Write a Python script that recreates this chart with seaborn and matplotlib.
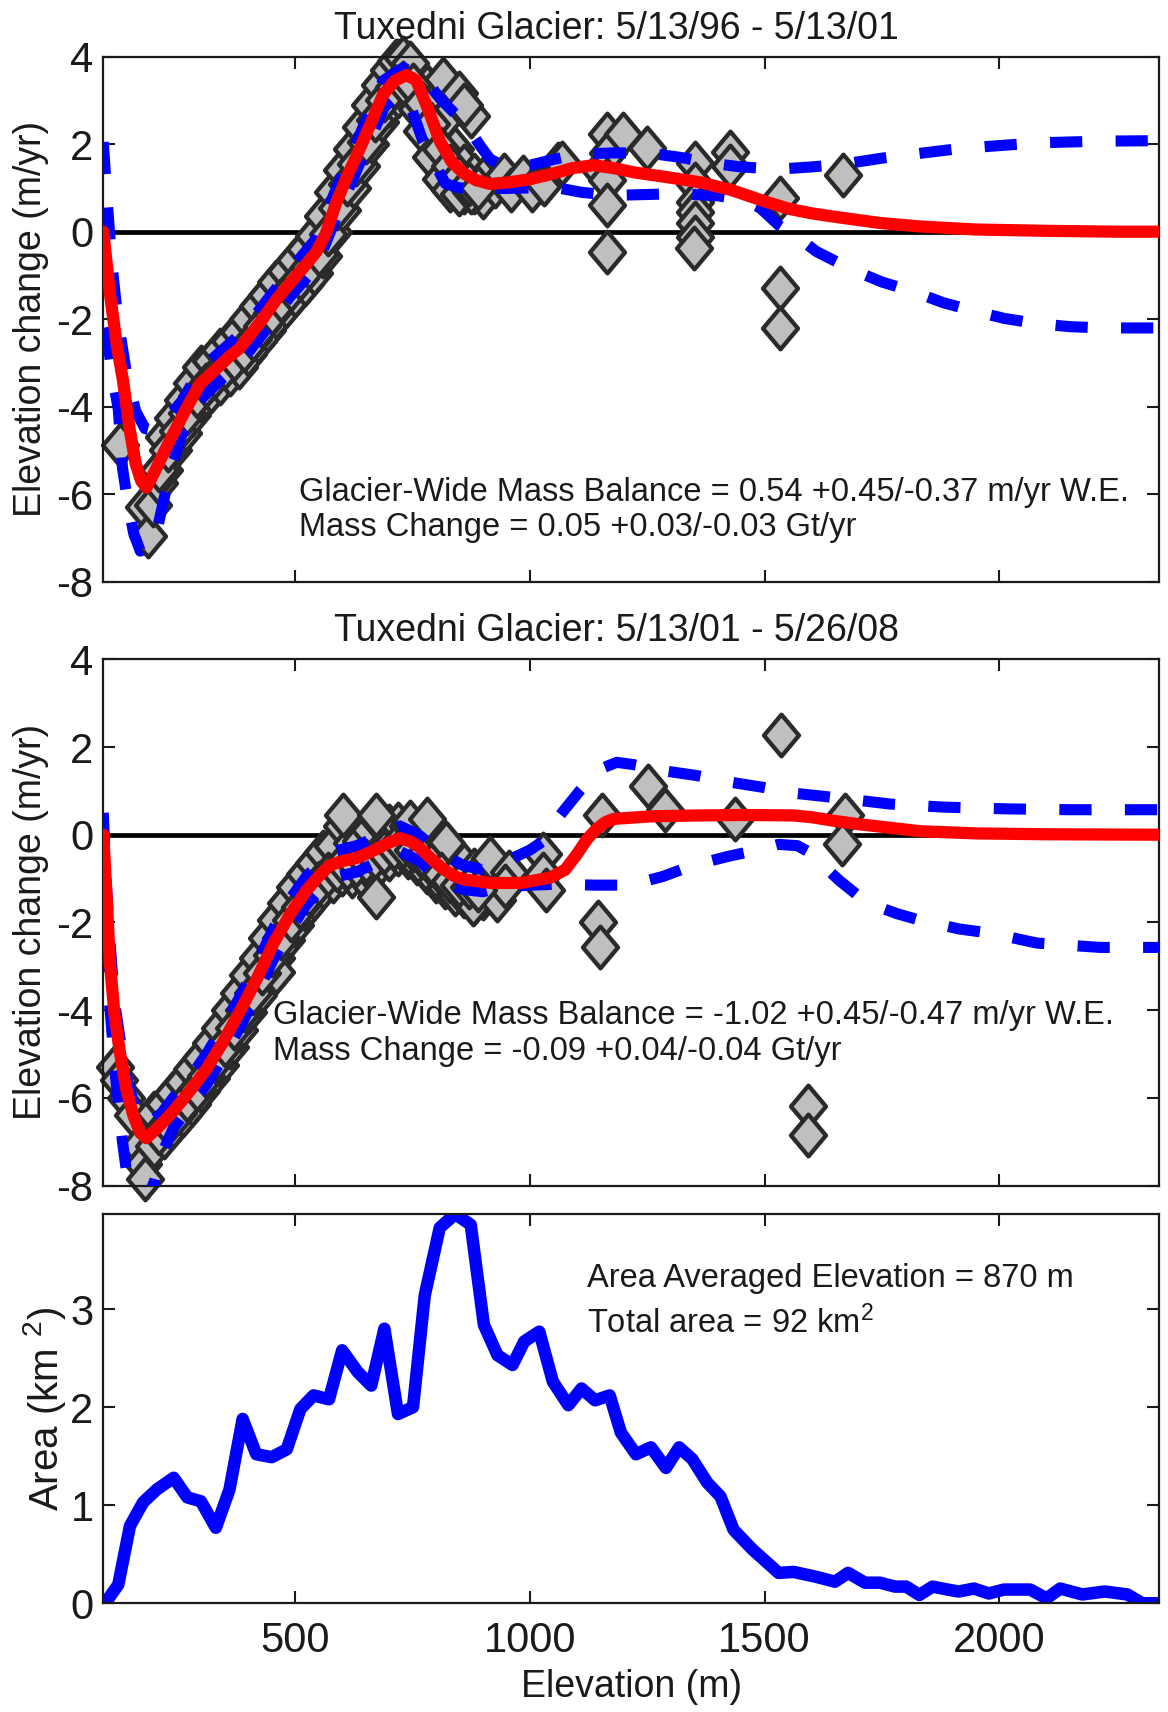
import numpy as np
import pandas as pd
import matplotlib
matplotlib.use("Agg")
import matplotlib.pyplot as plt
from matplotlib.path import Path
import seaborn as sns

# ------------------------------------------------------------------ data
x_limits = (91, 2341)
x_ticks = [500, 1000, 1500, 2000]
dh_ticks = [-8, -6, -4, -2, 0, 2, 4]
area_ticks = [0, 1, 2, 3]

titles = ["Tuxedni Glacier: 5/13/96 - 5/13/01",
          "Tuxedni Glacier: 5/13/01 - 5/26/08"]
notes_p1 = ["Glacier-Wide Mass Balance = 0.54 +0.45/-0.37 m/yr W.E.",
            "Mass Change = 0.05 +0.03/-0.03 Gt/yr"]
notes_p2 = ["Glacier-Wide Mass Balance = -1.02 +0.45/-0.47 m/yr W.E.",
            "Mass Change = -0.09 +0.04/-0.04 Gt/yr"]
notes_p3 = ["Area Averaged Elevation = 870 m",
            "Total area = 92 km$^2$"]

# ---- panel 1 (1996-2001) fitted curve and bounds
p1_fit_elev = [91, 105, 120, 133, 147, 160, 172, 183, 200, 220, 240, 270, 297, 320, 340, 360,
               382, 405, 430, 460, 488, 515, 545, 565, 588, 610, 631, 660, 687, 712, 737, 758,
               785, 808, 833, 858, 885, 915, 957, 1000, 1040, 1090, 1135, 1180, 1220, 1290,
               1362, 1430, 1504, 1553, 1600, 1650, 1745, 1830, 1950, 2100, 2250, 2341]
p1_fit_dh = [0.0, -1.4, -2.6, -3.4, -4.5, -5.3, -5.7, -5.85, -5.5, -5.05, -4.62, -4.0, -3.48,
             -3.25, -3.05, -2.85, -2.66, -2.35, -2.0, -1.55, -1.19, -0.85, -0.46, -0.05, 0.68,
             1.25, 1.74, 2.45, 3.13, 3.45, 3.58, 3.46, 2.75, 2.07, 1.6, 1.34, 1.18, 1.09, 1.13,
             1.2, 1.3, 1.45, 1.52, 1.45, 1.36, 1.25, 1.13, 0.95, 0.68, 0.52, 0.42, 0.34, 0.2,
             0.12, 0.05, 0.02, 0.0, 0.0]

p1_up_elev = [91, 100, 110, 122, 140, 160, 180, 200, 225, 260, 297, 340, 382, 430, 488, 545,
              588, 631, 687, 730, 760, 790, 815, 845, 872, 895, 915, 940, 1000, 1050, 1100,
              1175, 1250, 1320, 1390, 1450, 1530, 1600, 1665, 1750, 1800, 1900, 1940, 2080,
              2220, 2341]
p1_up_dh = [2.05, 0.6, -0.8, -2.0, -3.2, -4.1, -4.5, -4.55, -4.3, -3.85, -3.15, -2.75, -2.35,
            -1.7, -0.9, -0.15, 1.0, 2.05, 3.45, 3.75, 3.6, 3.3, 2.97, 2.65, 2.32, 1.95, 1.66,
            1.52, 1.52, 1.65, 1.77, 1.8, 1.8, 1.7, 1.56, 1.48, 1.43, 1.48, 1.54, 1.68, 1.75,
            1.88, 1.92, 2.03, 2.07, 2.08]

p1_lo_elev = [91, 103, 112, 123, 132, 145, 156, 170, 190, 205, 233, 260, 297, 340, 382, 430,
              488, 545, 588, 631, 690, 720, 745, 772, 800, 820, 850, 900, 1000, 1050, 1110,
              1175, 1250, 1315, 1400, 1450, 1490, 1530, 1570, 1610, 1685, 1750, 1815, 1880,
              1945, 2010, 2080, 2150, 2220, 2341]
p1_lo_dh = [-2.2, -2.7, -3.4, -4.05, -5.4, -6.3, -6.9, -7.3, -7.2, -6.85, -5.5, -4.6, -3.85,
            -3.4, -3.0, -2.35, -1.5, -0.8, 0.35, 1.4, 2.85, 3.15, 2.9, 2.07, 1.5, 1.1, 1.0,
            0.98, 1.0, 1.02, 0.9, 0.83, 0.85, 0.87, 0.82, 0.74, 0.55, 0.15, -0.12, -0.45,
            -0.86, -1.15, -1.36, -1.62, -1.81, -1.98, -2.1, -2.17, -2.2, -2.2]

# ---- panel 1 observations
p1_obs_elev = [126, 178, 186, 198, 210,
               220, 220, 240, 240, 260, 260, 280, 280, 300, 300, 320, 320, 340, 340, 360, 360,
               380, 380, 400, 400, 420, 420, 440, 440, 460, 460, 480, 480, 500, 500, 520, 520,
               540, 540, 560, 560, 580, 580, 600, 600, 620, 620, 640, 640, 660, 660, 680, 680,
               700, 700, 720, 720, 740, 740, 760, 760, 780, 780, 800, 800, 820, 820, 840, 840,
               860, 860, 880, 880, 900, 900,
               715, 730, 745, 815, 849, 874, 860,
               770, 790, 810, 830, 850, 875, 925, 945, 960, 985, 1004, 1030, 1061, 1068,
               1150, 1164, 1166, 1164, 1164, 1164, 1199, 1249,
               1352, 1352, 1352, 1352, 1352, 1352, 1350, 1426, 1426,
               1533, 1533, 1533, 1668]
p1_obs_dh = [-4.87, -6.3, -6.95, -6.25, -5.75,
             -4.7, -5.45, -4.25, -5.0, -3.85, -4.6, -3.45, -4.2, -3.1, -3.85, -2.95, -3.65,
             -2.7, -3.45, -2.5, -3.25, -2.3, -3.1, -2.0, -2.8, -1.7, -2.5, -1.45, -2.25,
             -1.15, -1.95, -0.9, -1.7, -0.65, -1.45, -0.4, -1.2, -0.1, -0.95, 0.35, -0.55, 0.9,
             0.0, 1.4, 0.5, 1.9, 1.0, 2.4, 1.5, 2.9, 2.0, 3.35, 2.5, 3.7, 2.9, 3.9,
             3.1, 3.85, 3.2, 3.6, 2.8, 3.3, 2.3, 3.0, 1.7, 2.6, 1.3, 1.9, 1.0, 1.5, 0.9, 1.3,
             0.9, 1.2, 0.8,
             3.9, 3.98, 3.85, 3.5, 3.17, 2.65, 2.9,
             2.3, 1.7, 1.2, 0.95, 0.85, 0.9, 1.05, 1.3, 0.95, 1.25, 0.95, 1.1, 1.55, 1.58,
             1.4, 2.23, 1.8, 1.17, 0.61, -0.46, 2.23, 1.91,
             1.58, 1.09, 0.68, 0.44, 0.2, -0.13, -0.38, 1.83, 1.5,
             0.77, -1.28, -2.21, 1.29]
p1_mid_elev = [210, 230, 250, 270, 290, 310, 330, 350, 370, 390, 410, 430, 450, 470, 490, 510,
               530, 550, 570, 590, 610, 630, 650, 670, 690, 710, 730, 750, 770, 790, 810, 830,
               850, 870, 890]
p1_mid_dh = [-5.45, -5.0, -4.55, -4.15, -3.75, -3.5, -3.3, -3.1, -2.9, -2.7, -2.45, -2.15,
             -1.85, -1.55, -1.3, -1.05, -0.8, -0.5, -0.05, 0.55, 1.1, 1.55, 2.05, 2.55, 3.0,
             3.3, 3.4, 3.35, 2.95, 2.45, 1.9, 1.5, 1.25, 1.1, 1.0]

# ---- panel 2 (2001-2008) fitted curve and bounds
p2_fit_elev = [91, 100, 105, 115, 126, 140, 155, 170, 183, 210, 240, 275, 311, 345, 382, 420,
               453, 490, 524, 550, 574, 600, 631, 655, 680, 700, 723, 745, 765, 790, 815, 840,
               858, 915, 980, 1043, 1075, 1100, 1122, 1142, 1160, 1178, 1260, 1362, 1461, 1561,
               1600, 1646, 1700, 1750, 1831, 1950, 2100, 2341]
p2_fit_dh = [0.0, -1.8, -2.9, -4.1, -4.93, -5.8, -6.4, -6.8, -6.92, -6.65, -6.31, -5.85, -5.34,
             -4.75, -4.03, -3.25, -2.49, -1.8, -1.27, -0.95, -0.7, -0.6, -0.53, -0.42, -0.29,
             -0.18, -0.08, -0.15, -0.29, -0.55, -0.78, -0.95, -1.02, -1.1, -1.1, -0.98, -0.8,
             -0.45, -0.1, 0.13, 0.28, 0.36, 0.42, 0.44, 0.45, 0.44, 0.4, 0.32, 0.24, 0.18,
             0.08, 0.03, 0.01, 0.0]

p2_up_elev = [91, 97, 105, 115, 126, 140, 160, 185, 215, 240, 275, 311, 345, 382, 420, 453,
              490, 524, 574, 631, 680, 723, 765, 815, 858, 900, 940, 964, 1000, 1028, 1064,
              1107, 1150, 1185, 1220, 1290, 1355, 1426, 1497, 1560, 1630, 1703, 1767, 1880,
              2015, 2150, 2341]
p2_up_dh = [0.5, -1.0, -2.4, -3.8, -4.6, -5.5, -6.3, -6.6, -6.35, -6.0, -5.55, -5.0, -4.4,
            -3.7, -2.9, -2.15, -1.45, -0.95, -0.4, -0.25, -0.02, 0.2, -0.02, -0.45, -0.7,
            -0.8, -0.7, -0.53, -0.35, -0.15, 0.44, 1.01, 1.5, 1.65, 1.6, 1.45, 1.35, 1.2,
            1.08, 0.95, 0.87, 0.78, 0.7, 0.63, 0.59, 0.57, 0.57]

p2_lo_elev = [91, 100, 108, 116, 124, 132, 142, 160, 185, 200, 215, 240, 275, 311, 345, 382,
              420, 453, 490, 524, 574, 631, 680, 723, 765, 815, 858, 900, 936, 964, 1050, 1140,
              1213, 1284, 1347, 1420, 1484, 1530, 1570, 1604, 1635, 1660, 1718, 1782, 1831,
              1915, 1985, 2080, 2215, 2341]
p2_lo_dh = [-2.4, -3.3, -4.3, -5.4, -6.2, -7.0, -7.8, -8.3, -8.3, -7.9, -7.3, -6.7, -6.2,
            -5.7, -5.1, -4.4, -3.6, -2.85, -2.15, -1.6, -1.0, -0.85, -0.6, -0.38, -0.6, -1.1,
            -1.25, -1.3, -1.2, -1.17, -1.13, -1.15, -1.15, -0.95, -0.7, -0.5, -0.35, -0.22,
            -0.25, -0.45, -0.8, -1.05, -1.55, -1.8, -1.95, -2.15, -2.25, -2.47, -2.57, -2.57]

# ---- panel 2 observations
p2_obs_elev = [115, 125, 140, 155, 168, 175, 180,
               200, 200, 220, 220, 240, 240, 260, 260, 280, 280, 300, 300, 320, 320, 340, 340,
               360, 360, 380, 380, 400, 400, 420, 420, 440, 440, 460, 460, 480, 480, 500, 500,
               520, 520, 540, 540, 560, 560, 580, 580, 600, 600, 620, 620, 640, 640, 660, 660,
               680, 680, 700, 700, 720, 720, 740, 740, 760, 760, 780, 780, 800, 800, 820, 820,
               840, 840, 860, 860, 880, 880, 900, 900,
               602, 673, 744, 780, 822, 915, 673, 858, 879, 460,
               930, 955, 947, 1028, 1028, 1035, 1153, 1146, 1149, 1252, 1288, 1437, 1536,
               1671, 1664, 1593, 1593]
p2_obs_dh = [-5.3, -5.6, -6.0, -6.4, -7.1, -7.5, -7.85,
             -6.35, -7.1, -6.15, -6.9, -5.9, -6.65, -5.65, -6.4, -5.35, -6.15, -5.1, -5.85,
             -4.75, -5.55, -4.4, -5.25, -4.0, -4.85, -3.6, -4.45, -3.2, -4.05, -2.8, -3.65,
             -2.35, -3.2, -1.95, -2.8, -1.55, -2.4, -1.2, -2.05, -0.9, -1.7, -0.65, -1.45,
             -0.4, -1.2, -0.25, -1.05, 0.2, -0.9, -0.2, -0.95, -0.15, -0.9, 0.1, -0.8, 0.3,
             -0.65, 0.2, -0.55, 0.25, -0.45, 0.2, -0.5, 0.1, -0.65, 0.3, -0.85, -0.3, -1.05,
             -0.45, -1.2, -0.6, -1.35, -0.7, -1.4, -0.8, -1.55, -0.75, -1.45,
             0.44, 0.44, 0.29, 0.36, -0.2, -0.53, -1.42, -1.35, -1.58, -3.14,
             -1.5, -0.85, -1.17, -0.45, -0.9, -1.27, 0.44, -2.0, -2.57, 1.1, 0.57, 0.36, 2.28,
             0.44, -0.21, -6.19, -6.84]
p2_mid_elev = [210, 230, 250, 270, 290, 310, 330, 350, 370, 390, 410, 430, 450, 470, 490, 510,
               530, 550, 570, 590, 610, 630, 650, 670, 690, 710, 730, 750, 770, 790, 810, 830,
               850, 870, 890]
p2_mid_dh = [-6.8, -6.6, -6.35, -6.05, -5.8, -5.5, -5.15, -4.8, -4.4, -4.0, -3.6, -3.15, -2.75,
             -2.35, -1.95, -1.65, -1.35, -1.1, -0.9, -0.8, -0.75, -0.7, -0.6, -0.5, -0.4, -0.3,
             -0.25, -0.35, -0.5, -0.7, -0.9, -1.05, -1.15, -1.2, -1.25]

# ---- panel 3 area-elevation distribution
area_elev = [95, 123, 148, 176, 205, 241, 270, 299, 331, 360, 388, 417, 450, 482, 511, 539,
             572, 600, 633, 662, 690, 719, 751, 776, 808, 841, 874, 902, 931, 963, 988, 1020,
             1049, 1082, 1110, 1139, 1170, 1194, 1226, 1258, 1290, 1318, 1346, 1378, 1406,
             1434, 1474, 1530, 1562, 1610, 1650, 1678, 1714, 1746, 1778, 1802, 1830, 1858,
             1890, 1914, 1946, 1978, 2010, 2066, 2101, 2130, 2177, 2225, 2273, 2305, 2341]
area_km2 = [0.0, 0.19, 0.79, 1.03, 1.16, 1.28, 1.08, 1.04, 0.77, 1.16, 1.88, 1.52, 1.49, 1.57,
            1.98, 2.12, 2.08, 2.58, 2.36, 2.22, 2.80, 1.93, 2.0, 3.14, 3.83, 3.97, 3.86, 2.84,
            2.53, 2.43, 2.67, 2.77, 2.26, 2.02, 2.19, 2.07, 2.12, 1.74, 1.52, 1.59, 1.38, 1.59,
            1.47, 1.23, 1.09, 0.75, 0.55, 0.31, 0.32, 0.27, 0.22, 0.31, 0.21, 0.21, 0.17,
            0.17, 0.085, 0.17, 0.14, 0.12, 0.15, 0.10, 0.14, 0.14, 0.05, 0.15, 0.09, 0.12,
            0.09, 0.0, 0.0]

# ------------------------------------------------------------------ style
sns.set_theme(style="white")
plt.rcParams["font.family"] = ["Liberation Sans", "DejaVu Sans"]
plt.rcParams["mathtext.fontset"] = "custom"
plt.rcParams["mathtext.rm"] = "Liberation Sans"
plt.rcParams["mathtext.it"] = "Liberation Sans:italic"
plt.rcParams["mathtext.default"] = "regular"
plt.rcParams["axes.unicode_minus"] = False

TXT = "#1a1a1a"
diamond = Path([(0, 1), (0.84, 0), (0, -1), (-0.84, 0), (0, 1)],
               [Path.MOVETO, Path.LINETO, Path.LINETO, Path.LINETO, Path.CLOSEPOLY])
DASH = (0, (2.9, 3.0))

fig = plt.figure(figsize=(11.68, 17.12), dpi=100)
ax1 = fig.add_axes([0.0884, 0.6602, 0.9041, 0.3067])
ax2 = fig.add_axes([0.0884, 0.3075, 0.9041, 0.3074])
ax3 = fig.add_axes([0.0884, 0.0635, 0.9041, 0.2274])


def frame(ax, labelsize):
    for s in ax.spines.values():
        s.set_visible(True)
        s.set_color(TXT)
        s.set_linewidth(1.6)
    ax.grid(False)
    ax.tick_params(direction="in", length=8.5, width=1.5, top=True, right=True,
                   bottom=True, left=True, colors=TXT, labelcolor=TXT,
                   labelsize=labelsize, pad=7)
    ax.set_xlim(*x_limits)
    ax.set_xticks(x_ticks)


def dh_panel(ax, title, notes, fe, fd, ue, ud, le, ld, oe, od, tx, ty1, ty2):
    frame(ax, 30)
    ax.axhline(0, color="black", lw=3.4, zorder=1)
    obs = pd.DataFrame({"elev": oe, "dh": od})
    sns.scatterplot(data=obs, x="elev", y="dh", ax=ax, marker=diamond, s=30 ** 2,
                    color="#bfbfbf", edgecolor="#2a2a2a", linewidth=3.1, zorder=2,
                    clip_on=False, legend=False)
    for e, d in ((ue, ud), (le, ld)):
        sns.lineplot(x=e, y=d, ax=ax, color="#0000ff", linewidth=8, linestyle=DASH,
                     dash_capstyle="butt", estimator=None, sort=False, zorder=3)
    sns.lineplot(x=fe, y=fd, ax=ax, color="#ff0000", linewidth=8.8, estimator=None,
                 sort=False, zorder=4)
    ax.set_ylim(-8, 4)
    ax.set_yticks(dh_ticks)
    ax.tick_params(labelbottom=False)
    ax.set_xlabel("")
    ax.set_ylabel("Elevation change (m/yr)", fontsize=27, color=TXT)
    ax.yaxis.set_label_coords(-0.051, 0.5)
    ax.set_title(title, fontsize=27, color=TXT, pad=13, x=0.486)
    ax.text(tx, ty1, notes[0], transform=ax.transAxes, fontsize=23.5, color=TXT,
            va="baseline", ha="left")
    ax.text(tx, ty2, notes[1], transform=ax.transAxes, fontsize=23.5, color=TXT,
            va="baseline", ha="left")


dh_panel(ax1, titles[0], notes_p1, p1_fit_elev, p1_fit_dh, p1_up_elev, p1_up_dh,
         p1_lo_elev, p1_lo_dh, p1_obs_elev + p1_mid_elev, p1_obs_dh + p1_mid_dh,
         0.185, 0.154, 0.087)
dh_panel(ax2, titles[1], notes_p2, p2_fit_elev, p2_fit_dh, p2_up_elev, p2_up_dh,
         p2_lo_elev, p2_lo_dh, p2_obs_elev + p2_mid_elev, p2_obs_dh + p2_mid_dh,
         0.161, 0.307, 0.239)

# bottom panel
frame(ax3, 30)
sns.lineplot(x=area_elev, y=area_km2, ax=ax3, color="#0000ff", linewidth=9,
             estimator=None, sort=False)
ax3.set_ylim(0, max(area_km2))
ax3.set_yticks(area_ticks)
ax3.tick_params(axis="x", pad=13)
ax3.set_xlabel("Elevation (m)", fontsize=27, color=TXT)
ax3.xaxis.set_label_coords(0.5, -0.17)
ax3.set_ylabel("Area (km $^2$)", fontsize=29, color=TXT)
ax3.yaxis.set_label_coords(-0.033, 0.5)
ax3.text(0.4585, 0.813, notes_p3[0], transform=ax3.transAxes, fontsize=23.5, color=TXT,
         va="baseline", ha="left")
ax3.text(0.4585, 0.694, notes_p3[1], transform=ax3.transAxes, fontsize=23.5, color=TXT,
         va="baseline", ha="left")

fig.savefig("out.png", dpi=100)
